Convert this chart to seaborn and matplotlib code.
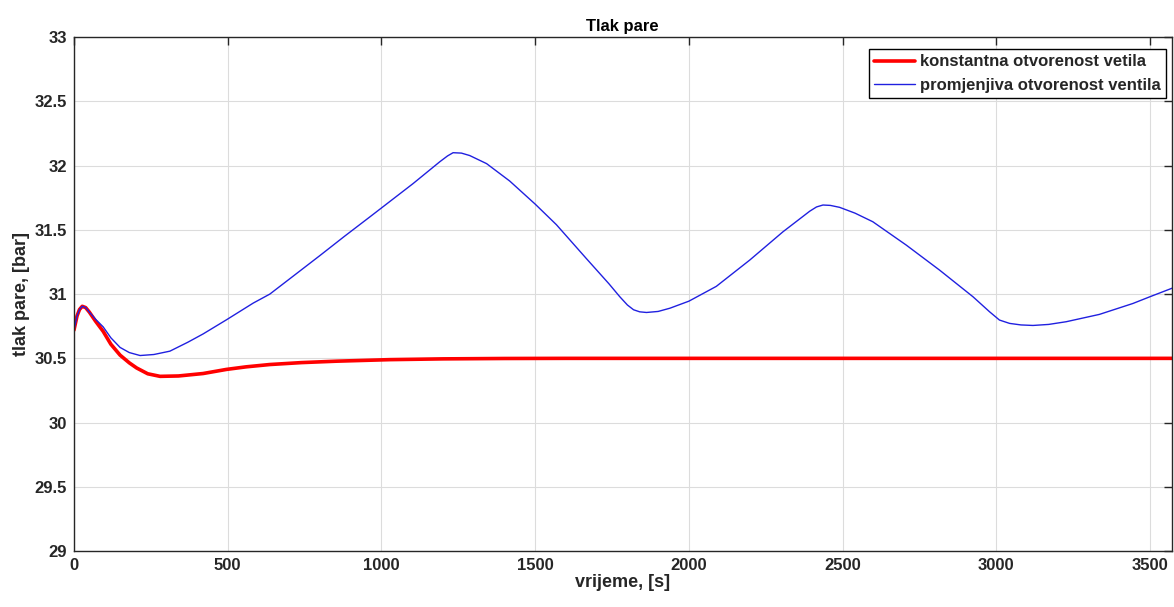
import matplotlib
matplotlib.use("Agg")
import matplotlib.pyplot as plt
import seaborn as sns

# Values
t_const = [0, 10, 18, 27, 38, 50, 70, 95, 120, 150, 180, 204, 240, 280, 340, 420, 496,
           560, 637, 740, 854, 1027, 1200, 1400, 1600, 2000, 2500, 3000, 3576]
p_const = [30.72, 30.83, 30.88, 30.905, 30.895, 30.86, 30.79, 30.71, 30.61, 30.525,
           30.465, 30.425, 30.38, 30.36, 30.363, 30.382, 30.414, 30.434, 30.452, 30.467,
           30.478, 30.49, 30.496, 30.499, 30.5, 30.5, 30.5, 30.5, 30.5]

t_var = [0, 10, 18, 27, 38, 50, 70, 95, 120, 150, 180, 215, 260, 312, 370, 420, 496,
         583, 637, 724, 800, 880, 962, 1000, 1103, 1190, 1215, 1233, 1260, 1287, 1342,
         1417, 1500, 1569, 1667, 1740, 1775, 1800, 1820, 1840, 1862, 1900, 1938, 2000,
         2089, 2198, 2306, 2393, 2415, 2436, 2460, 2490, 2540, 2598, 2707, 2815, 2924,
         2978, 3010, 3043, 3080, 3119, 3170, 3227, 3335, 3444, 3500, 3576]
p_var = [30.72, 30.83, 30.88, 30.905, 30.895, 30.86, 30.805, 30.745, 30.66, 30.585,
         30.545, 30.522, 30.53, 30.556, 30.625, 30.69, 30.8, 30.93, 31.0, 31.16, 31.3,
         31.45, 31.6, 31.67, 31.86, 32.03, 32.075, 32.1, 32.097, 32.078, 32.015, 31.88,
         31.7, 31.54, 31.275, 31.08, 30.98, 30.915, 30.878, 30.862, 30.857, 30.865,
         30.89, 30.945, 31.06, 31.265, 31.485, 31.645, 31.678, 31.693, 31.69, 31.675,
         31.63, 31.563, 31.381, 31.187, 30.979, 30.862, 30.798, 30.772, 30.76, 30.756,
         30.764, 30.785, 30.842, 30.927, 30.98, 31.05]

labels = ["konstantna otvorenost vetila", "promjenjiva otvorenost ventila"]

sns.set_style("whitegrid")
plt.rcParams["font.family"] = ["Liberation Sans", "DejaVu Sans"]
plt.rcParams["font.weight"] = "bold"

fig = plt.figure(figsize=(11.74, 6.07), dpi=100)
ax = fig.add_axes([0.063, 0.092, 0.935, 0.847])

sns.lineplot(x=t_const, y=p_const, ax=ax, color="#ff0000", linewidth=2.6, label=labels[0])
sns.lineplot(x=t_var, y=p_var, ax=ax, color="#2020e0", linewidth=1.0, label=labels[1])
for ln in ax.lines:
    ln.set_solid_joinstyle("round")

ax.set_xlim(0, 3570)
ax.set_ylim(29, 33)
ax.set_xticks(range(0, 3501, 500))
ax.set_yticks([29, 29.5, 30, 30.5, 31, 31.5, 32, 32.5, 33])
ax.set_yticklabels(["29", "29.5", "30", "30.5", "31", "31.5", "32", "32.5", "33"])

ax.grid(True, color="#dcdcdc", linewidth=0.8)
for s in ax.spines.values():
    s.set_color("#262626")
    s.set_linewidth(1.0)
ax.tick_params(direction="in", length=6, width=1, colors="#262626", labelsize=12,
               top=True, right=True, labelcolor="#262626", pad=5)
for lab in ax.get_xticklabels() + ax.get_yticklabels():
    lab.set_fontweight("bold")

ax.set_title("Tlak pare", fontsize=12, fontweight="bold", color="black", pad=4)
ax.set_xlabel("vrijeme, [s]", fontsize=13, fontweight="bold", color="#262626", labelpad=1)
ax.set_ylabel("tlak pare, [bar]", fontsize=13, fontweight="bold", color="#262626", labelpad=3)

leg = ax.legend(loc="upper right", bbox_to_anchor=(0.995, 0.976), fontsize=12,
                frameon=True, fancybox=False, framealpha=1, edgecolor="black",
                borderpad=0.3, handlelength=2.5, handletextpad=0.3, borderaxespad=0)
leg.get_frame().set_linewidth(1.0)
for txt in leg.get_texts():
    txt.set_fontweight("bold")

fig.savefig("out.png", dpi=100)
